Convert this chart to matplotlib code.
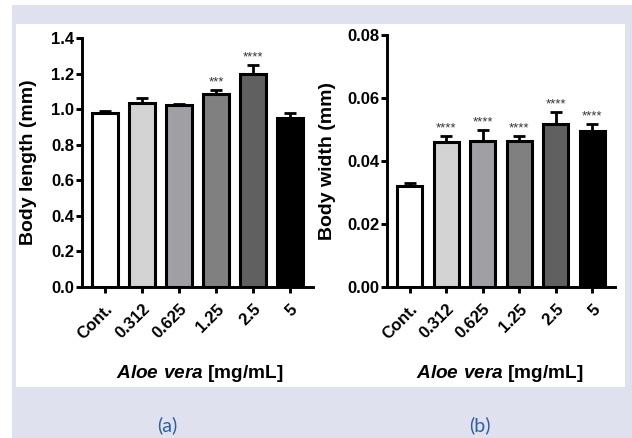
import matplotlib
matplotlib.use('Agg')
import matplotlib.pyplot as plt
from matplotlib.patches import Rectangle
import numpy as np

plt.rcParams['font.family'] = ['Liberation Sans', 'DejaVu Sans']
plt.rcParams['font.weight'] = 'bold'
plt.rcParams['mathtext.fontset'] = 'custom'
plt.rcParams['mathtext.it'] = 'Liberation Sans:italic:bold'
plt.rcParams['mathtext.rm'] = 'Liberation Sans:bold'

groups = ['Cont.', '0.312', '0.625', '1.25', '2.5', '5']
bar_colors = ['#ffffff', '#d3d3d3', '#a0a0a4', '#808080', '#606060', '#000000']

length_mean = [0.981, 1.036, 1.026, 1.086, 1.196, 0.953]
length_err = [0.006, 0.026, 0.004, 0.021, 0.051, 0.023]
length_stars = ['', '', '', '***', '****', '']

width_mean = [0.0322, 0.0460, 0.0464, 0.0462, 0.0517, 0.0495]
width_err = [0.0007, 0.0019, 0.0034, 0.0016, 0.0038, 0.0023]
width_stars = ['', '****', '****', '****', '****', '****']

fig = plt.figure(figsize=(6.32, 4.38), dpi=100)
fig.patch.set_facecolor('white')
W, H = 632.0, 438.0
# lavender frame and white panel, kept behind the axes
fig.patches.append(Rectangle((12 / W, 0), 1, 1 - 5 / H, transform=fig.transFigure,
                             facecolor='#dfe1ef', edgecolor='none', zorder=-10))
fig.patches.append(Rectangle((16 / W, 1 - 387 / H), (625 - 16) / W, (387 - 24) / H,
                             transform=fig.transFigure, facecolor='white',
                             edgecolor='none', zorder=-9))


def draw_panel(ax, means, errs, stars, ylim, yticks, fmt, ylabel, ylab_x):
    x = np.arange(len(groups))
    ax.errorbar(x, means, yerr=[np.zeros(len(errs)), errs], fmt='none',
                ecolor='black', elinewidth=2.0, capsize=4.3, capthick=2.0, zorder=2)
    ax.bar(x, means, width=0.68, color=bar_colors, edgecolor='black',
           linewidth=2.2, zorder=3)
    for xi, m, e, s in zip(x, means, errs, stars):
        if s:
            ax.annotate(s, (xi, m + e), xytext=(0, 3.5), textcoords='offset points',
                        ha='center', va='baseline', fontsize=9.5, color='#333333',
                        fontweight='normal')
    ax.set_xlim(-0.62, 5.62)
    ax.set_ylim(*ylim)
    ax.set_yticks(yticks)
    ax.set_yticklabels([fmt % v for v in yticks], fontsize=12, fontweight='bold')
    ax.set_xticks(x)
    ax.set_xticklabels(groups, rotation=45, ha='right', rotation_mode='anchor',
                       fontsize=12, fontweight='bold')
    for sp in ['top', 'right']:
        ax.spines[sp].set_visible(False)
    for sp in ['left', 'bottom']:
        ax.spines[sp].set_linewidth(2.1)
    ax.tick_params(direction='out', length=4.5, width=2.1, pad=1)
    ax.tick_params(axis='x', pad=6)
    ax.set_ylabel(ylabel, fontsize=14, fontweight='bold')
    ax.yaxis.label.set_va('center')
    ax.yaxis.set_label_coords(ylab_x, 0.5)
    ax.set_facecolor('none')


ax1 = fig.add_axes([82 / W, 1 - 287 / H, (313 - 82) / W, (287 - 38) / H])
draw_panel(ax1, length_mean, length_err, length_stars, (0, 1.4),
           [0.0, 0.2, 0.4, 0.6, 0.8, 1.0, 1.2, 1.4], '%.1f', 'Body length (mm)',
           (29 - 82) / (313 - 82))

ax2 = fig.add_axes([387 / W, 1 - 287 / H, (615 - 387) / W, (287 - 35) / H])
draw_panel(ax2, width_mean, width_err, width_stars, (0, 0.08),
           [0.00, 0.02, 0.04, 0.06, 0.08], '%.2f', 'Body width (mm)',
           (328 - 387) / (615 - 387))

for cx in [200, 500]:
    fig.text(cx / W, 1 - 374 / H, r'$\mathit{Aloe\ vera}$ [mg/mL]',
             ha='center', va='center', fontsize=13.7, fontweight='bold')

fig.text(167 / W, 1 - 425 / H, '(a)', ha='center', va='center', fontsize=14,
         color='#2f5f9f', family='Lato', fontweight='normal')
fig.text(480 / W, 1 - 425 / H, '(b)', ha='center', va='center', fontsize=14,
         color='#2f5f9f', family='Lato', fontweight='normal')

fig.savefig('out.png', dpi=100, facecolor=fig.get_facecolor())
